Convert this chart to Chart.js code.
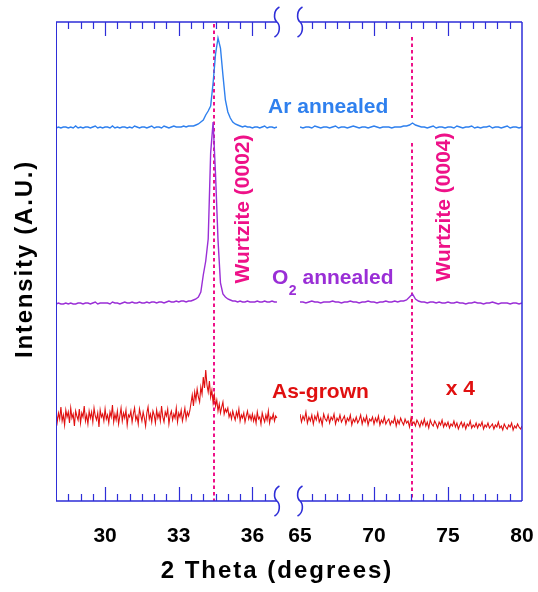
<!DOCTYPE html>
<html><head><meta charset="utf-8">
<script src="https://cdn.jsdelivr.net/npm/chart.js@4/dist/chart.umd.min.js"></script>
<style>html,body{margin:0;padding:0;background:#fff;}</style>
</head><body>
<canvas id="c" width="538" height="592"></canvas>
<script>
// ---- data (2θ in degrees, intensity in offset arbitrary units) ----
const thetaLeft = [28,28.1,28.2,28.3,28.4,28.5,28.6,28.7,28.8,28.9,
 29,29.1,29.2,29.3,29.4,29.5,29.6,29.7,29.8,29.9,
 30,30.1,30.2,30.3,30.4,30.5,30.6,30.7,30.8,30.9,
 31,31.1,31.2,31.3,31.4,31.5,31.6,31.7,31.8,31.9,
 32,32.1,32.2,32.3,32.4,32.5,32.6,32.7,32.8,32.9,
 33,33.1,33.2,33.3,33.4,33.5,33.6,33.7,33.8,33.9,
 34,34.1,34.2,34.3,34.4,34.5,34.6,34.7,34.8,34.9,
 35,35.1,35.2,35.3,35.4,35.5,35.6,35.7,35.8,35.9,
 36,36.1,36.2,36.3,36.4,36.5,36.6,36.7,36.8,36.9,
 37];
const thetaRight = [65,65.2,65.4,65.6,65.8,66,66.2,66.4,66.6,66.8,
 67,67.2,67.4,67.6,67.8,68,68.2,68.4,68.6,68.8,
 69,69.2,69.4,69.6,69.8,70,70.2,70.4,70.6,70.8,
 71,71.2,71.4,71.6,71.8,72,72.2,72.4,72.6,72.8,
 73,73.2,73.4,73.6,73.8,74,74.2,74.4,74.6,74.8,
 75,75.2,75.4,75.6,75.8,76,76.2,76.4,76.6,76.8,
 77,77.2,77.4,77.6,77.8,78,78.2,78.4,78.6,78.8,
 79,79.2,79.4,79.6,79.8,80];
// finer 2θ sampling used for the noisy as-grown scan
const thetaFineLeft = [28,28.05,28.1,28.15,28.2,28.25,28.3,28.35,28.4,28.45,28.5,28.55,28.6,28.65,28.7,28.75,28.8,28.85,28.9,28.95,
 29,29.05,29.1,29.15,29.2,29.25,29.3,29.35,29.4,29.45,29.5,29.55,29.6,29.65,29.7,29.75,29.8,29.85,29.9,29.95,
 30,30.05,30.1,30.15,30.2,30.25,30.3,30.35,30.4,30.45,30.5,30.55,30.6,30.65,30.7,30.75,30.8,30.85,30.9,30.95,
 31,31.05,31.1,31.15,31.2,31.25,31.3,31.35,31.4,31.45,31.5,31.55,31.6,31.65,31.7,31.75,31.8,31.85,31.9,31.95,
 32,32.05,32.1,32.15,32.2,32.25,32.3,32.35,32.4,32.45,32.5,32.55,32.6,32.65,32.7,32.75,32.8,32.85,32.9,32.95,
 33,33.05,33.1,33.15,33.2,33.25,33.3,33.35,33.4,33.45,33.5,33.55,33.6,33.65,33.7,33.75,33.8,33.85,33.9,33.95,
 34,34.05,34.1,34.15,34.2,34.25,34.3,34.35,34.4,34.45,34.5,34.55,34.6,34.65,34.7,34.75,34.8,34.85,34.9,34.95,
 35,35.05,35.1,35.15,35.2,35.25,35.3,35.35,35.4,35.45,35.5,35.55,35.6,35.65,35.7,35.75,35.8,35.85,35.9,35.95,
 36,36.05,36.1,36.15,36.2,36.25,36.3,36.35,36.4,36.45,36.5,36.55,36.6,36.65,36.7,36.75,36.8,36.85,36.9,36.95,
 37];
const thetaFineRight = [65,65.1,65.2,65.3,65.4,65.5,65.6,65.7,65.8,65.9,
 66,66.1,66.2,66.3,66.4,66.5,66.6,66.7,66.8,66.9,
 67,67.1,67.2,67.3,67.4,67.5,67.6,67.7,67.8,67.9,
 68,68.1,68.2,68.3,68.4,68.5,68.6,68.7,68.8,68.9,
 69,69.1,69.2,69.3,69.4,69.5,69.6,69.7,69.8,69.9,
 70,70.1,70.2,70.3,70.4,70.5,70.6,70.7,70.8,70.9,
 71,71.1,71.2,71.3,71.4,71.5,71.6,71.7,71.8,71.9,
 72,72.1,72.2,72.3,72.4,72.5,72.6,72.7,72.8,72.9,
 73,73.1,73.2,73.3,73.4,73.5,73.6,73.7,73.8,73.9,
 74,74.1,74.2,74.3,74.4,74.5,74.6,74.7,74.8,74.9,
 75,75.1,75.2,75.3,75.4,75.5,75.6,75.7,75.8,75.9,
 76,76.1,76.2,76.3,76.4,76.5,76.6,76.7,76.8,76.9,
 77,77.1,77.2,77.3,77.4,77.5,77.6,77.7,77.8,77.9,
 78,78.1,78.2,78.3,78.4,78.5,78.6,78.7,78.8,78.9,
 79,79.1,79.2,79.3,79.4,79.5,79.6,79.7,79.8,79.9,
 80];

const arLeft = [373,374,373,374,374,373,374,373,375,373,
 374,373,374,374,373,374,375,373,374,373,
 374,374,373,375,373,374,373,374,374,373,
 374,373,375,374,373,374,374,373,374,375,
 373,374,374,373,375,374,373,374,375,374,
 374,374,375,374,375,375,375,376,377,379,
 381,386,390,395,418,447,463,453,426,401,
 389,383,379,377,376,375,374,375,374,374,
 373,374,374,373,374,375,373,374,374,373,
 374];
const arRight = [374,373,374,374,373,375,374,373,374,374,
 373,374,375,373,374,374,373,374,375,374,
 373,374,374,373,374,375,374,373,374,374,
 374,373,374,374,374,375,375,376,378,376,
 375,374,374,373,374,375,373,374,374,373,
 374,374,373,375,374,373,374,374,375,373,
 374,373,374,374,375,373,374,374,373,374,
 375,373,374,374,373,374];

const o2Left = [197,198,197,197,198,197,198,197,197,198,
 198,197,198,198,197,198,199,197,198,198,
 198,198,197,199,198,198,197,198,199,198,
 198,199,198,198,199,198,198,199,198,199,
 199,198,199,199,198,199,200,199,199,200,
 199,200,200,199,200,200,201,202,204,209,
 226,240,262,348,379,326,261,218,207,204,
 202,201,200,200,199,200,199,199,200,199,
 199,199,200,199,199,200,199,199,200,199,
 199];
const o2Right = [199,199,198,199,200,199,199,198,199,199,
 199,200,199,199,198,199,199,200,199,199,
 198,199,199,200,199,199,198,199,199,200,
 199,199,200,199,200,200,201,204,207,202,
 200,199,199,198,199,199,198,199,198,198,
 199,198,198,199,198,198,197,198,198,199,
 198,198,197,198,198,199,198,197,198,198,
 198,197,198,198,197,198];

const grownLeft = [90,79,88,82,94,80,86,76,91,84,89,78,93,83,87,75,90,85,81,92,
 78,88,84,95,80,86,77,90,83,89,79,93,85,81,88,74,91,84,87,80,
 92,82,86,78,89,84,96,79,87,81,90,77,85,93,80,88,83,91,76,86,
 84,90,79,87,93,81,85,77,92,86,80,89,83,75,88,94,82,87,79,90,
 86,78,91,83,88,80,95,84,79,89,85,92,77,86,90,81,87,83,93,79,
 88,84,91,80,86,93,82,89,85,90,98,106,95,109,101,112,104,99,114,107,
 124,113,131,116,109,120,104,111,98,106,95,101,90,97,88,94,99,87,92,89,
 93,84,88,82,90,85,81,89,84,92,80,86,83,88,79,85,90,82,86,81,
 87,80,85,78,89,82,84,77,88,83,79,86,81,90,78,84,82,87,80,85,
 83];
const grownRight = [87,79,85,81,89,78,84,80,86,77,
 85,81,88,79,83,76,87,82,80,86,
 78,84,81,87,77,83,80,86,79,82,
 85,77,83,80,86,76,82,79,84,78,
 81,86,77,83,79,85,76,82,80,84,
 77,83,79,85,76,81,78,84,77,80,
 82,76,80,78,84,75,81,77,83,79,
 76,82,78,80,74,83,77,79,75,81,
 78,74,80,76,82,75,79,73,81,77,
 75,80,77,73,79,76,81,74,78,75,
 79,73,77,75,80,74,78,72,76,79,
 74,78,72,77,75,80,73,76,74,78,
 73,77,75,79,72,76,74,78,73,75,
 77,72,76,74,79,73,75,71,77,74,
 72,76,74,78,71,75,73,77,74,72,
 75];

const leftTickLabels = [30, 33, 36];
const rightTickLabels = [65, 70, 75, 80];
const wurtzitePeaks = [34.42, 72.56];          // (0002), (0004)
const seriesNames = ['Ar annealed', 'O2 annealed', 'As-grown'];

// ---- styles ----
const FONT = "'Liberation Sans', Arial, Helvetica, sans-serif";
const AR = '#2f80ee', O2 = '#9a2ed6', RED = '#e01010', PINK = '#ee1188', AXIS = '#2e2ed8';

const pts = (xs, ys) => xs.map((x, i) => ({x, y: ys[i]}));
const zeroPad = s => { s.paddingLeft = 0; s.paddingRight = 0; s.paddingTop = 0; s.paddingBottom = 0; };

const decor = {
  id: 'decor',
  beforeDatasetsDraw(chart) {
    const {ctx, chartArea: a, scales} = chart;
    ctx.save();
    ctx.strokeStyle = PINK; ctx.lineWidth = 2; ctx.setLineDash([3.5, 3]);
    const xl = Math.round(scales.x.getPixelForValue(wurtzitePeaks[0]));
    ctx.beginPath(); ctx.moveTo(xl, a.top + 2); ctx.lineTo(xl, a.bottom); ctx.stroke();
    const xr = Math.round(scales.x2.getPixelForValue(wurtzitePeaks[1]));
    const g1 = scales.y.getPixelForValue(383), g2 = scales.y.getPixelForValue(358);
    ctx.beginPath(); ctx.moveTo(xr, a.top + 15); ctx.lineTo(xr, g1);
    ctx.moveTo(xr, g2); ctx.lineTo(xr, a.bottom); ctx.stroke();
    ctx.restore();
  },
  afterDatasetsDraw(chart) {
    const {ctx, chartArea: a, scales} = chart;
    const sx = scales.x, sx2 = scales.x2, sy = scales.y;
    const bL = sx.getPixelForValue(37), bR = sx2.getPixelForValue(65);
    ctx.save();
    ctx.strokeStyle = AXIS; ctx.lineWidth = 1.5;
    ctx.beginPath();
    ctx.moveTo(a.left, a.top); ctx.lineTo(bL, a.top);
    ctx.moveTo(bR, a.top); ctx.lineTo(a.right, a.top);
    ctx.moveTo(a.left, a.bottom); ctx.lineTo(bL, a.bottom);
    ctx.moveTo(bR, a.bottom); ctx.lineTo(a.right, a.bottom);
    ctx.stroke();
    ctx.lineWidth = 1;
    ctx.beginPath();
    ctx.moveTo(a.left + 0.5, a.top); ctx.lineTo(a.left + 0.5, a.bottom);
    ctx.stroke();
    ctx.lineWidth = 1.5;
    ctx.beginPath();
    ctx.moveTo(a.right, a.top); ctx.lineTo(a.right, a.bottom);
    ctx.stroke();
    ctx.lineWidth = 1.2;
    const tick = (px, major) => {
      const L = major ? 14 : 7;
      const x = Math.round(px) + 0.5;
      ctx.moveTo(x, a.top); ctx.lineTo(x, a.top + L);
      ctx.moveTo(x, a.bottom); ctx.lineTo(x, a.bottom - L);
    };
    ctx.beginPath();
    for (let k = 1; k <= 17; k++) {
      const v = 28 + k * 0.5;
      tick(sx.getPixelForValue(v), leftTickLabels.includes(v));
    }
    for (let k = 1; k <= 17; k++) {
      const v = 65 + k * 5 / 6;
      tick(sx2.getPixelForValue(v), k % 6 === 0);
    }
    ctx.stroke();
    ctx.lineWidth = 1.6;
    const squig = (cx, cy) => {
      ctx.moveTo(cx + 2.5, cy - 15);
      ctx.bezierCurveTo(cx - 3.5, cy - 12, cx - 3.5, cy - 3, cx, cy);
      ctx.bezierCurveTo(cx + 3.5, cy + 3, cx + 3.5, cy + 12, cx - 2.5, cy + 15);
    };
    ctx.beginPath();
    squig(bL, a.top); squig(bR, a.top); squig(bL, a.bottom); squig(bR, a.bottom);
    ctx.stroke();

    ctx.textBaseline = 'alphabetic'; ctx.textAlign = 'left';
    ctx.font = `bold 21px ${FONT}`;
    ctx.fillStyle = AR;
    ctx.fillText('Ar annealed', sx.getPixelForValue(36.64), sy.getPixelForValue(388));
    ctx.fillStyle = O2;
    let ox = sx.getPixelForValue(36.80), oy = sy.getPixelForValue(217);
    ctx.fillText('O', ox, oy);
    ox += ctx.measureText('O').width + 0.5;
    ctx.font = `bold 14px ${FONT}`;
    ctx.fillText('2', ox, sy.getPixelForValue(206));
    ox += ctx.measureText('2').width;
    ctx.font = `bold 21px ${FONT}`;
    ctx.fillText(' annealed', ox, oy);
    ctx.fillStyle = RED;
    ctx.fillText('As-grown', sx.getPixelForValue(36.80), sy.getPixelForValue(103));
    ctx.fillText('x 4', sx2.getPixelForValue(74.84), sy.getPixelForValue(106));
    ctx.fillStyle = PINK; ctx.textAlign = 'center'; ctx.textBaseline = 'middle';
    const rot = (t, px, py) => { ctx.save(); ctx.translate(px, py); ctx.rotate(-Math.PI / 2); ctx.fillText(t, 0, 0); ctx.restore(); };
    rot('Wurtzite (0002)', sx.getPixelForValue(35.61), sy.getPixelForValue(292));
    rot('Wurtzite (0004)', sx2.getPixelForValue(74.71), sy.getPixelForValue(294));
    ctx.restore();
  },
  afterDraw(chart) {
    const {ctx} = chart;
    ctx.save();
    ctx.fillStyle = '#000';
    ctx.font = `bold 24px ${FONT}`;
    ctx.letterSpacing = '2px';
    ctx.textAlign = 'center'; ctx.textBaseline = 'alphabetic';
    ctx.fillText('2 Theta (degrees)', 277, 578);
    ctx.letterSpacing = '1.8px';
    ctx.translate(32, 259); ctx.rotate(-Math.PI / 2);
    ctx.fillText('Intensity (A.U.)', 0, 0);
    ctx.restore();
  }
};

const tickFont = {family: FONT, size: 21, weight: 'bold'};
const xCommon = {
  type: 'linear', position: 'bottom', stack: 'theta',
  grid: {display: false, drawTicks: false}, border: {display: false},
  ticks: {font: tickFont, color: '#000', padding: 23, autoSkip: false, maxRotation: 0}
};

new Chart(document.getElementById('c'), {
  type: 'line',
  data: {
    datasets: [
      {label: seriesNames[0], data: pts(thetaLeft, arLeft), xAxisID: 'x', borderColor: AR, borderWidth: 1.4},
      {label: seriesNames[0], data: pts(thetaRight, arRight), xAxisID: 'x2', borderColor: AR, borderWidth: 1.4},
      {label: seriesNames[1], data: pts(thetaLeft, o2Left), xAxisID: 'x', borderColor: O2, borderWidth: 1.4},
      {label: seriesNames[1], data: pts(thetaRight, o2Right), xAxisID: 'x2', borderColor: O2, borderWidth: 1.4},
      {label: seriesNames[2], data: pts(thetaFineLeft, grownLeft), xAxisID: 'x', borderColor: RED, borderWidth: 1.1},
      {label: seriesNames[2], data: pts(thetaFineRight, grownRight), xAxisID: 'x2', borderColor: RED, borderWidth: 1.1}
    ]
  },
  options: {
    responsive: false, animation: false, devicePixelRatio: 1,
    layout: {padding: {left: 56, right: 16, top: 22, bottom: 0}},
    elements: {point: {radius: 0}, line: {tension: 0, fill: false}},
    plugins: {legend: {display: false}, tooltip: {enabled: false}, title: {display: false}},
    scales: {
      x: Object.assign({}, xCommon, {
        min: 28, max: 37.94, stackWeight: 244,
        afterBuildTicks: s => { s.ticks = leftTickLabels.map(v => ({value: v})); },
        afterFit: s => { s.height = 91; zeroPad(s); }
      }),
      x2: Object.assign({}, xCommon, {
        min: 65, max: 80, stackWeight: 222,
        afterBuildTicks: s => { s.ticks = rightTickLabels.map(v => ({value: v})); },
        afterFit: s => { s.height = 91; zeroPad(s); }
      }),
      y: {type: 'linear', display: false, min: 0, max: 479}
    }
  },
  plugins: [decor]
});
</script>
</body></html>
